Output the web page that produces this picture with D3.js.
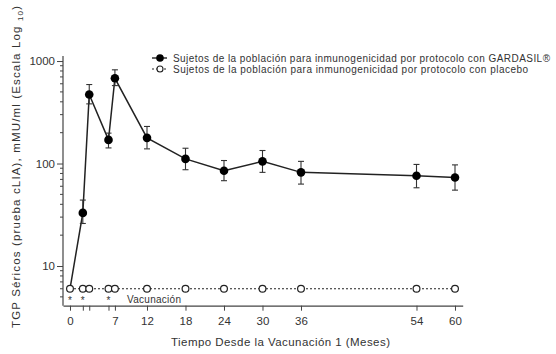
<!DOCTYPE html>
<html><head><meta charset="utf-8">
<script src="https://cdn.jsdelivr.net/npm/d3@7"></script>
<style>body{margin:0;background:#fff}svg{display:block;font-family:"Liberation Sans",Arial,sans-serif}</style>
</head><body><svg id="c" width="556" height="354"></svg>
<script>
const months = [0, 2, 3, 6, 7, 12, 18, 24, 30, 36, 54, 60];
const gardasil = [6, 33, 471, 170, 679, 178, 111, 85, 105, 82, 76, 73];
const gardasilLow = [null, 26, 382, 142, 576, 139, 87, 68, 82, 63, 58, 55];
const gardasilHigh = [null, 44, 590, 198, 821, 230, 141, 107, 134, 105, 98, 97];
const placebo = [6, 6, 6, 6, 6, 6, 6, 6, 6, 6, 6, 6];
const xTickValues = [0, 2, 3, 6, 7, 12, 18, 24, 30, 36, 54, 60];
const xTickLabels = ["0", "", "", "", "7", "12", "18", "24", "30", "36", "54", "60"];
const yTickLabels = [10, 100, 1000];
const vaccinationMonths = [0, 2, 6];
const legendLabels = ["Sujetos de la población para inmunogenicidad por protocolo con GARDASIL®",
                      "Sujetos de la población para inmunogenicidad por protocolo con placebo"];

const svg = d3.select("#c");
const x = d3.scaleLinear().domain([-1.09, 61.2]).range([63, 462.7]);
const y = d3.scaleLog().domain([4.1, 1120]).range([305.7, 56]);
const ink = "#222";

// Y axis
const minor = [];
[1, 10, 100].forEach(d => { for (let k = 2; k <= 9; k++) { const v = d * k; if (v >= 4.1 && v <= 1120) minor.push(v); } });
const gy = svg.append("g").attr("transform", "translate(63,0)");
gy.append("line").attr("y1", y.range()[0]).attr("y2", y.range()[1]).attr("stroke", "#444").attr("stroke-width", 1.2);
gy.selectAll(".mn").data(minor).join("line").attr("x1", -3).attr("x2", 0)
  .attr("y1", d => y(d)).attr("y2", d => y(d)).attr("stroke", "#444");
const yAxis = d3.axisLeft(y).tickValues(yTickLabels).tickFormat(d3.format("d")).tickSize(6).tickPadding(2);
const ya = gy.append("g").call(yAxis);
ya.select(".domain").remove();
ya.selectAll("line").attr("stroke", "#444");
ya.selectAll("text").attr("font-size", 11.5).attr("fill", "#333").attr("font-family", "Liberation Sans, Arial, sans-serif");

// X axis
const xAxis = d3.axisBottom(x).tickValues(xTickValues).tickFormat((d, i) => xTickLabels[i]).tickSize(5).tickPadding(6).tickSizeOuter(0);
const xa = svg.append("g").attr("transform", "translate(0,305.7)").call(xAxis);
xa.select(".domain").attr("stroke", "#444").attr("stroke-width", 1.2);
xa.selectAll("line").attr("stroke", "#444");
xa.selectAll("text").attr("font-size", 11.5).attr("fill", "#333").attr("font-family", "Liberation Sans, Arial, sans-serif");

// Axis titles
svg.append("text").attr("x", 280.5).attr("y", 346).attr("text-anchor", "middle")
  .attr("font-size", 11.5).attr("fill", "#333").attr("textLength", 219).attr("lengthAdjust", "spacing")
  .text("Tiempo Desde la Vacunación 1 (Meses)");
const yt = svg.append("text").attr("transform", "translate(20,167) rotate(-90)").attr("text-anchor", "middle")
  .attr("font-size", 11.5).attr("fill", "#333").attr("textLength", 322).attr("lengthAdjust", "spacing");
yt.append("tspan").text("TGP Séricos (prueba cLIA), mMU/ml (Escala Log ");
yt.append("tspan").attr("font-size", 8).attr("dy", 3).text("10");
yt.append("tspan").attr("dy", -3).text(")");

// Vaccination marks
svg.selectAll(".ast").data(vaccinationMonths).join("text").attr("x", d => x(d)).attr("y", 304)
  .attr("text-anchor", "middle").attr("font-size", 10).attr("fill", "#333").text("*");
svg.append("text").attr("x", 127).attr("y", 303).attr("font-size", 10).attr("fill", "#333")
  .attr("textLength", 54).attr("lengthAdjust", "spacing").text("Vacunación");

// Placebo line
const gLine = d3.line().x((d, i) => x(months[i])).y(d => y(d));
svg.append("path").attr("d", gLine(placebo)).attr("fill", "none").attr("stroke", ink)
  .attr("stroke-width", 1.2).attr("stroke-dasharray", "2,2");

// Gardasil line
svg.append("path").attr("d", gLine(gardasil)).attr("fill", "none").attr("stroke", ink).attr("stroke-width", 1.5);

// Error bars
const eb = months.map((m, i) => ({m, lo: gardasilLow[i], hi: gardasilHigh[i]})).filter(d => d.lo != null);
const ge = svg.append("g").attr("stroke", "#333").attr("stroke-width", 1.1);
ge.selectAll(".v").data(eb).join("line").attr("x1", d => x(d.m)).attr("x2", d => x(d.m)).attr("y1", d => y(d.lo)).attr("y2", d => y(d.hi));
ge.selectAll(".t").data(eb).join("line").attr("x1", d => x(d.m) - 3).attr("x2", d => x(d.m) + 3).attr("y1", d => y(d.hi)).attr("y2", d => y(d.hi));
ge.selectAll(".b").data(eb).join("line").attr("x1", d => x(d.m) - 3).attr("x2", d => x(d.m) + 3).attr("y1", d => y(d.lo)).attr("y2", d => y(d.lo));

// Gardasil markers (month 0 covered by placebo marker)
svg.selectAll(".gm").data(gardasil.slice(1)).join("circle").attr("cx", (d, i) => x(months[i + 1])).attr("cy", d => y(d))
  .attr("r", 4.3).attr("fill", "#000");

// Placebo markers
svg.selectAll(".pm").data(placebo).join("circle").attr("cx", (d, i) => x(months[i])).attr("cy", d => y(d))
  .attr("r", 3.4).attr("fill", "#fff").attr("stroke", ink).attr("stroke-width", 1.2);

// Legend
const lg = svg.append("g");
const ly = [58, 69];
lg.append("line").attr("x1", 152).attr("x2", 167).attr("y1", ly[0]).attr("y2", ly[0]).attr("stroke", ink).attr("stroke-width", 1.4);
lg.append("circle").attr("cx", 160).attr("cy", ly[0]).attr("r", 3.8).attr("fill", "#000");
lg.append("line").attr("x1", 152).attr("x2", 167).attr("y1", ly[1]).attr("y2", ly[1]).attr("stroke", ink).attr("stroke-width", 1.2).attr("stroke-dasharray", "2,2");
lg.append("circle").attr("cx", 160).attr("cy", ly[1]).attr("r", 3).attr("fill", "#fff").attr("stroke", ink).attr("stroke-width", 1.1);
lg.selectAll(".lt").data(legendLabels).join("text").attr("x", 173).attr("y", (d, i) => ly[i] + 3.5)
  .attr("font-size", 10).attr("fill", "#333")
  .attr("textLength", (d, i) => i === 0 ? 377 : 355).attr("lengthAdjust", "spacing").text(d => d);
</script></body></html>
